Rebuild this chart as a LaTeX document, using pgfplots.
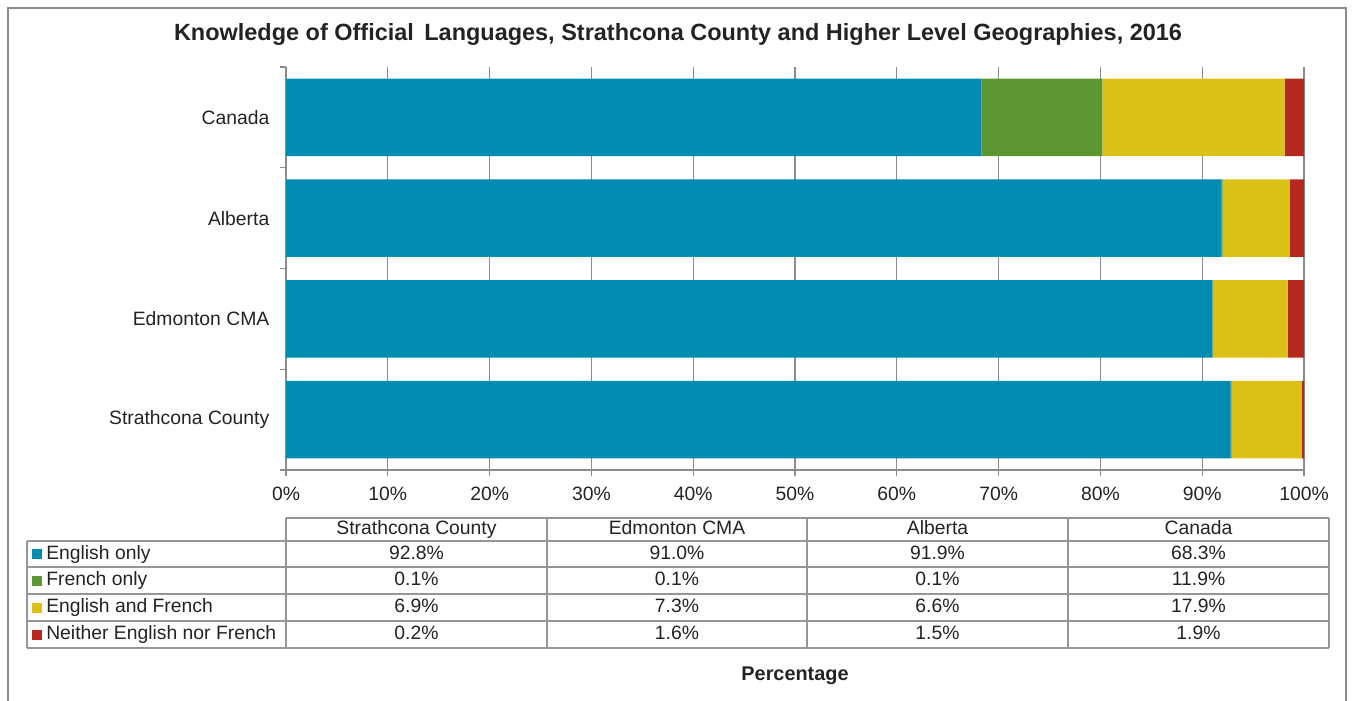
\documentclass[border=0pt]{standalone}
\usepackage{fontspec}
\setmainfont{Liberation Sans}
\usepackage{pgfplots}
\pgfplotsset{compat=1.18}
\definecolor{cblue}{RGB}{2,139,176}
\definecolor{cgreen}{RGB}{93,151,50}
\definecolor{cyellow}{RGB}{219,192,24}
\definecolor{cred}{RGB}{180,40,30}
\definecolor{gridgray}{RGB}{140,140,140}
\definecolor{tabgray}{RGB}{150,150,150}
\definecolor{txt}{RGB}{35,35,35}
\newcommand{\lf}{\fontsize{14.5}{17}\selectfont}
\begin{document}
\begin{tikzpicture}
\useasboundingbox (0,0) rectangle (1014pt,-525pt);
\begin{axis}[
  at={(214.5pt,-352.5pt)}, anchor=south west,
  scale only axis, width=763.5pt, height=302.25pt,
  xbar stacked, bar width=0.77,
  xmin=0, xmax=100, ymin=-0.5, ymax=3.5,
  xtick={0,10,...,100},
  xticklabel={\pgfmathprintnumber{\tick}\%},
  ytick={0,1,2,3},
  yticklabels={Strathcona County, Edmonton CMA, Alberta, Canada},
  minor ytick={-0.5,0.5,1.5,2.5,3.5},
  axis x line*=bottom, axis y line*=left,
  axis line style={draw=gridgray, line width=1pt, -},
  xmajorgrids,
  major grid style={draw=gridgray, line width=1pt},
  tick align=outside,
  major tick length=4.5pt, minor tick length=4.5pt,
  tick style={draw=gridgray, line width=1pt},
  every major y tick/.style={draw=none},
  ticklabel style={font=\lf, text=txt},
  xticklabel style={yshift=-4.5pt},
  yticklabel style={xshift=-4.5pt},
  /pgf/number format/assume math mode=true,
]
\addplot[fill=cblue, draw=none] coordinates {(92.8,0) (91.0,1) (91.9,2) (68.3,3)};
\addplot[fill=cgreen, draw=none] coordinates {(0.1,0) (0.1,1) (0.1,2) (11.9,3)};
\addplot[fill=cyellow, draw=none] coordinates {(6.9,0) (7.3,1) (6.6,2) (17.9,3)};
\addplot[fill=cred, draw=none] coordinates {(0.2,0) (1.6,1) (1.5,2) (1.9,3)};
\end{axis}
\begin{scope}[x=0.75pt, y=-0.75pt, every node/.style={text height=10.5pt, text depth=3pt}]
  % outer frame
  \draw[color=gridgray, line width=1pt] (8,720) -- (8,8) -- (1346,8) -- (1346,720);
  % title
  \node[font=\fontsize{17.6}{20}\selectfont\bfseries, text=txt, text height=13pt, text depth=3.5pt] at (678,34)
    {Knowledge of Official\, Languages, Strathcona County and Higher Level Geographies, 2016};
  % table lines
  \draw[color=tabgray, line width=1pt]
    (286,518) -- (1329,518)
    (27,541) -- (1329,541)
    (27,567) -- (1329,567)
    (27,594) -- (1329,594)
    (27,621) -- (1329,621)
    (27,648) -- (1329,648)
    (27,541) -- (27,648)
    (286,518) -- (286,648)
    (547,518) -- (547,648)
    (807,518) -- (807,648)
    (1068,518) -- (1068,648)
    (1329,518) -- (1329,648);
  % header
  \foreach \c/\t in {416.5/Strathcona County, 677/Edmonton CMA, 937.5/Alberta, 1198.5/Canada}
    \node[font=\lf, text=txt] at (\c,529.5) {\t};
  % legend keys and row labels
  \foreach \yy/\col/\t in {554/cblue/English only, 580.5/cgreen/French only, 607.5/cyellow/English and French, 634.5/cred/Neither English nor French}{
    \fill[\col] (32,\yy-5) rectangle (42,\yy+5);
    \node[font=\lf, text=txt, anchor=west, inner sep=0pt] at (46,\yy) {\t};
  }
  % values
  \foreach \yy/\a/\b/\c/\d in {554/92.8\%/91.0\%/91.9\%/68.3\%, 580.5/0.1\%/0.1\%/0.1\%/11.9\%, 607.5/6.9\%/7.3\%/6.6\%/17.9\%, 634.5/0.2\%/1.6\%/1.5\%/1.9\%}{
    \node[font=\lf, text=txt] at (416.5,\yy) {\a};
    \node[font=\lf, text=txt] at (677,\yy) {\b};
    \node[font=\lf, text=txt] at (937.5,\yy) {\c};
    \node[font=\lf, text=txt] at (1198.5,\yy) {\d};
  }
  \node[font=\fontsize{14.9}{17}\selectfont\bfseries, text=txt] at (795,675) {Percentage};
\end{scope}
\end{tikzpicture}
\end{document}
